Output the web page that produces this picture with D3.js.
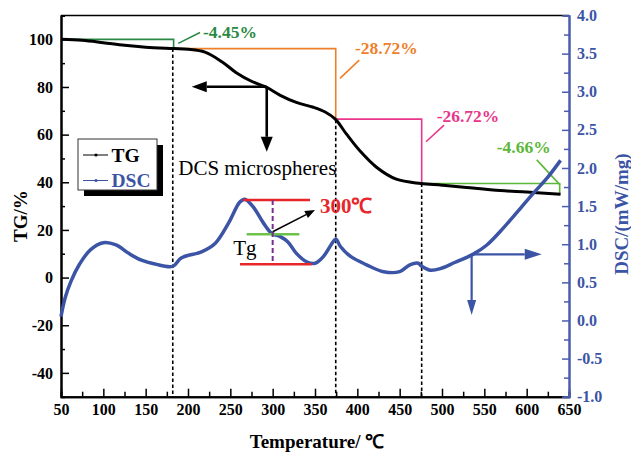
<!DOCTYPE html>
<html>
<head>
<meta charset="utf-8">
<script src="https://cdn.jsdelivr.net/npm/d3@7"></script>
<style>
  body { margin: 0; background: #fff; }
  text { font-family: "Liberation Serif", "Times New Roman", serif; }
</style>
</head>
<body>
<div id="chart"></div>
<script>
// Data -----------------------------------------------------------------------
const tgTemp = [50, 75, 100, 125, 150, 183, 200, 220, 240, 257, 275, 293, 309, 328, 348, 362, 374, 387, 403, 423, 446, 475, 500, 529, 569, 600, 640];
const tgValue = [100, 99.6, 98.6, 97.5, 96.7, 96.1, 95.8, 94.6, 90.6, 86.0, 82.4, 79.8, 76.5, 73.5, 71.5, 69.5, 66.5, 60.3, 53.2, 46.2, 41.3, 39.5, 38.8, 37.8, 36.5, 35.9, 35.0];

const dscTemp = [50, 55, 62, 72, 85, 100, 115, 130, 145, 161, 182, 192, 216, 232, 248, 261, 267, 277, 289, 299, 309, 318, 328, 340, 350, 360, 370, 374.5, 380, 392, 411, 431, 450, 462, 472, 476, 486, 498, 515, 537, 553, 569, 584, 608, 625, 640];
const dscValue = [0.05, 0.30, 0.52, 0.74, 0.93, 1.02, 0.99, 0.88, 0.79, 0.74, 0.71, 0.82, 0.90, 1.01, 1.28, 1.55, 1.59, 1.49, 1.28, 1.14, 1.10, 1.03, 0.88, 0.77, 0.75, 0.84, 1.01, 1.07, 0.97, 0.84, 0.73, 0.64, 0.64, 0.73, 0.75, 0.71, 0.66, 0.68, 0.76, 0.87, 0.99, 1.17, 1.36, 1.67, 1.88, 2.10];

const xTicks = [50, 100, 150, 200, 250, 300, 350, 400, 450, 500, 550, 600, 650];
const tgTicks = [-40, -20, 0, 20, 40, 60, 80, 100];
const dscTicks = [-1.0, -0.5, 0.0, 0.5, 1.0, 1.5, 2.0, 2.5, 3.0, 3.5, 4.0];

// weight-loss steps: [startTemp, endTemp], [level, dropTo]
const stepTemps = [[50, 183], [183, 374.5], [374.5, 476], [476, 639]];
const stepLevels = [[100, 96.1], [96.1, 66.5], [66.5, 39.5], [39.5, 35.0]];
const stepLabels = ["-4.45%", "-28.72%", "-26.72%", "-4.66%"];
const stepColors = ["#2a8a44", "#f07f2a", "#e8368a", "#5cb83a"];
const labelAnchors = [[217.7, 100.7], [397.2, 93.7], [493.7, 65.4], [564.6, 52.2]];
const leaderLines = [[188.5, 98.3, 214.2, 102.9], [379.5, 83.6, 402.3, 91.3], [481.1, 57.0, 502.4, 64.0], [611.9, 49.4, 639.4, 38.9]];
const dashedTemps = [182, 374.5, 476];

// Layout ---------------------------------------------------------------------
const width = 631;
const height = 452;
const margin = { top: 15.5, right: 62, bottom: 55.3, left: 61 };
const blue = "#3b54a5";
const hyphen = f => d => f(d).replace("\u2212", "-");

const svg = d3.select("#chart")
  .append("svg")
  .attr("width", width)
  .attr("height", height);

const x = d3.scaleLinear().domain([50, 650]).range([margin.left, width - margin.right]);
const yL = d3.scaleLinear().domain([-50, 110]).range([height - margin.bottom, margin.top]);
const yR = d3.scaleLinear().domain([-1, 4]).range([height - margin.bottom, margin.top]);

function arrow(g, x1, y1, x2, y2, color, w, len, half) {
  const a = Math.atan2(y2 - y1, x2 - x1);
  const bx = x2 - len * Math.cos(a), by = y2 - len * Math.sin(a);
  g.append("line")
    .attr("x1", x1).attr("y1", y1).attr("x2", bx).attr("y2", by)
    .attr("stroke", color).attr("stroke-width", w);
  g.append("path")
    .attr("d", `M${x2},${y2}L${bx + half * Math.sin(a)},${by - half * Math.cos(a)}L${bx - half * Math.sin(a)},${by + half * Math.cos(a)}Z`)
    .attr("fill", color);
}

// Frame & axes ---------------------------------------------------------------
svg.append("line")
  .attr("x1", x(50)).attr("x2", x(650))
  .attr("y1", margin.top).attr("y2", margin.top)
  .attr("stroke", "#000").attr("stroke-width", 1.5);

function styleAxis(g, color) {
  g.attr("font-family", null);
  g.select(".domain").attr("stroke", color).attr("stroke-width", 2);
  g.selectAll(".tick line").attr("stroke", color).attr("stroke-width", 1.5);
  g.selectAll("text")
    .attr("fill", color)
    .style("font-weight", "bold")
    .style("font-size", "16px");
}

const xMinor = svg.append("g")
  .attr("transform", `translate(0,${height - margin.bottom})`)
  .call(d3.axisBottom(x).tickValues(d3.range(75, 650, 50)).tickSize(-5).tickFormat(""));
styleAxis(xMinor, "#000");
const xAxis = svg.append("g")
  .attr("transform", `translate(0,${height - margin.bottom})`)
  .call(d3.axisBottom(x).tickValues(xTicks).tickSizeInner(-8).tickSizeOuter(0).tickPadding(7));
styleAxis(xAxis, "#000");

const yMinor = svg.append("g")
  .attr("transform", `translate(${margin.left},0)`)
  .call(d3.axisLeft(yL).tickValues(d3.range(-30, 110, 20)).tickSize(-4).tickFormat(""));
styleAxis(yMinor, "#000");
const yAxis = svg.append("g")
  .attr("transform", `translate(${margin.left},0)`)
  .call(d3.axisLeft(yL).tickValues(tgTicks).tickSizeInner(-8).tickSizeOuter(0).tickPadding(8)
    .tickFormat(hyphen(d3.format("d"))));
styleAxis(yAxis, "#000");

const rMinor = svg.append("g")
  .attr("transform", `translate(${width - margin.right},0)`)
  .call(d3.axisRight(yR).tickValues(d3.range(-0.75, 4, 0.5)).tickSize(-5).tickFormat(""));
styleAxis(rMinor, "#4a5db0");
const rAxis = svg.append("g")
  .attr("transform", `translate(${width - margin.right},0)`)
  .call(d3.axisRight(yR).tickValues(dscTicks).tickSizeInner(-7).tickSizeOuter(0).tickPadding(8)
    .tickFormat(hyphen(d3.format(".1f"))));
styleAxis(rAxis, "#4a5db0");
rAxis.selectAll("text").attr("fill", blue);

// Axis titles
svg.append("text")
  .attr("transform", `translate(27,${(margin.top + height - margin.bottom) / 2 + 10}) rotate(-90)`)
  .attr("text-anchor", "middle")
  .style("font-weight", "bold").style("font-size", "19px")
  .text("TG/%");
svg.append("text")
  .attr("transform", `translate(628,${(margin.top + height - margin.bottom) / 2 + 8}) rotate(-90)`)
  .attr("text-anchor", "middle")
  .attr("fill", blue)
  .style("font-weight", "bold").style("font-size", "19px")
  .text("DSC/(mW/mg)");
svg.append("text")
  .attr("x", 317).attr("y", 448)
  .attr("text-anchor", "middle")
  .style("font-weight", "bold").style("font-size", "19px")
  .text("Temperature/ ℃");

// Dashed guide lines ---------------------------------------------------------
const tgAt = t => {
  const i = d3.bisectLeft(tgTemp, t);
  if (i <= 0) return tgValue[0];
  const t0 = tgTemp[i - 1], t1 = tgTemp[i];
  return tgValue[i - 1] + (tgValue[i] - tgValue[i - 1]) * (t - t0) / (t1 - t0);
};
svg.selectAll(".guide")
  .data(dashedTemps)
  .enter()
  .append("line")
  .attr("x1", d => x(d)).attr("x2", d => x(d))
  .attr("y1", d => yL(tgAt(d))).attr("y2", yL(-50))
  .attr("stroke", "#000").attr("stroke-width", 1.6)
  .attr("stroke-dasharray", "3.5,2.5");

// Step annotations -----------------------------------------------------------
stepTemps.forEach((s, i) => {
  const [l0, l1] = stepLevels[i];
  svg.append("path")
    .attr("d", `M${x(s[0])},${yL(l0)}H${x(s[1])}V${yL(l1)}`)
    .attr("fill", "none").attr("stroke", stepColors[i]).attr("stroke-width", 1.6);
  const ll = leaderLines[i];
  svg.append("line")
    .attr("x1", x(ll[0])).attr("y1", yL(ll[1]))
    .attr("x2", x(ll[2])).attr("y2", yL(ll[3]))
    .attr("stroke", stepColors[i]).attr("stroke-width", 1.6);
  svg.append("text")
    .attr("x", x(labelAnchors[i][0])).attr("y", yL(labelAnchors[i][1]))
    .attr("fill", stepColors[i])
    .style("font-weight", "bold").style("font-size", "17.5px")
    .text(stepLabels[i]);
});

// Curves ---------------------------------------------------------------------
svg.append("path")
  .datum(tgTemp.map((t, i) => [t, tgValue[i]]))
  .attr("d", d3.line().x(d => x(d[0])).y(d => yL(d[1])).curve(d3.curveCatmullRom.alpha(0.5)))
  .attr("fill", "none").attr("stroke", "#000").attr("stroke-width", 3);

svg.append("path")
  .datum(dscTemp.map((t, i) => [t, dscValue[i]]))
  .attr("d", d3.line().x(d => x(d[0])).y(d => yR(d[1])).curve(d3.curveCatmullRom.alpha(0.5)))
  .attr("fill", "none").attr("stroke", blue).attr("stroke-width", 3.5);

// TG arrows & label
arrow(svg, x(293), yL(80.1), x(204.4), yL(80.1), "#000", 2.6, 15, 5.5);
arrow(svg, x(293), yL(80.1), x(293), yL(52.8), "#000", 2.6, 15, 6);
svg.append("text")
  .attr("x", x(188.5)).attr("y", yL(43.1))
  .style("font-size", "21px")
  .text("DCS microspheres");

// Tg annotation
svg.append("line")
  .attr("x1", x(265.3)).attr("x2", x(344.1)).attr("y1", yR(1.58)).attr("y2", yR(1.58))
  .attr("stroke", "#e8262a").attr("stroke-width", 2.5);
svg.append("line")
  .attr("x1", x(261.4)).attr("x2", x(346.1)).attr("y1", yR(0.737)).attr("y2", yR(0.737))
  .attr("stroke", "#e8262a").attr("stroke-width", 2.5);
svg.append("line")
  .attr("x1", x(269.3)).attr("x2", x(331.5)).attr("y1", yR(1.13)).attr("y2", yR(1.13))
  .attr("stroke", "#6cc24a").attr("stroke-width", 2.5);
svg.append("line")
  .attr("x1", x(300)).attr("x2", x(300)).attr("y1", yR(1.58)).attr("y2", yR(0.737))
  .attr("stroke", "#7b2d8e").attr("stroke-width", 2).attr("stroke-dasharray", "5,3");
arrow(svg, x(300), yR(1.164), x(350), yR(1.449), "#000", 1.5, 10, 4);
svg.append("text")
  .attr("x", x(355.9)).attr("y", yR(1.41))
  .attr("fill", "#e8262a")
  .style("font-weight", "bold").style("font-size", "21px")
  .text("300℃");
svg.append("text")
  .attr("x", x(253.5)).attr("y", yR(0.859))
  .style("font-size", "21px")
  .text("Tg");

// DSC arrows
arrow(svg, x(535), yR(0.868), x(617.8), yR(0.868), blue, 2.2, 17, 5.5);
arrow(svg, x(535), yR(0.868), x(535), yR(0.072), blue, 2.2, 15, 4.5);

// Legend ---------------------------------------------------------------------
const legend = svg.append("g");
legend.append("rect")
  .attr("x", 84).attr("y", 145).attr("width", 79).attr("height", 51)
  .attr("fill", "#000");
legend.append("rect")
  .attr("x", 78).attr("y", 139).attr("width", 79).attr("height", 51)
  .attr("fill", "#fff").attr("stroke", "#333").attr("stroke-width", 1);
[["TG", "#000", 155], ["DSC", blue, 180.5]].forEach(([name, color, ly]) => {
  legend.append("line")
    .attr("x1", 83).attr("x2", 108).attr("y1", ly).attr("y2", ly)
    .attr("stroke", color).attr("stroke-width", 1);
  legend.append("circle")
    .attr("cx", 96).attr("cy", ly).attr("r", 1.6).attr("fill", color);
  legend.append("text")
    .attr("x", 111.5).attr("y", ly + 6.5)
    .attr("fill", color)
    .style("font-weight", "bold").style("font-size", "19.5px")
    .text(name);
});
</script>
</body>
</html>
